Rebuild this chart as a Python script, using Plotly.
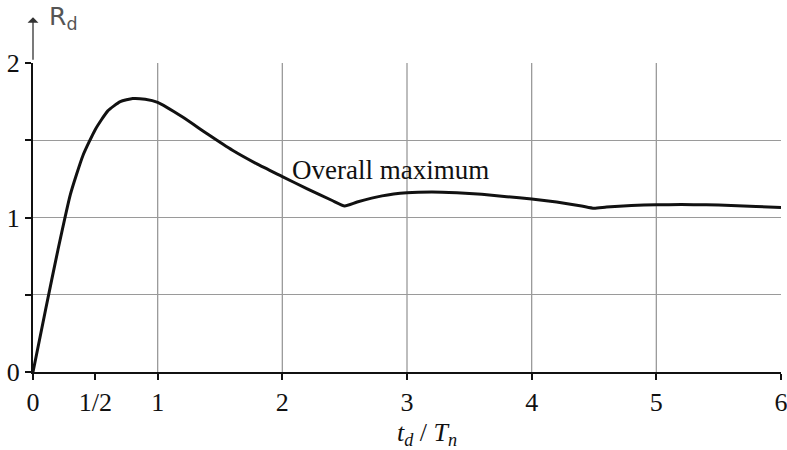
import plotly.graph_objects as go

# ---- data ----
td_tn = [0, 0.1, 0.2, 0.3, 0.4, 0.5, 0.6, 0.7, 0.8, 0.9, 1.0, 1.2, 1.4, 1.6, 1.8,
         2.0, 2.2, 2.4, 2.5, 2.6, 2.8, 3.0, 3.2, 3.4, 3.6, 3.8, 4.0, 4.2, 4.4,
         4.5, 4.6, 4.8, 5.0, 5.2, 5.4, 5.6, 5.8, 6.0]
rd = [0, 0.40, 0.79, 1.15, 1.40, 1.57, 1.69, 1.75, 1.77, 1.765, 1.745, 1.65, 1.54,
      1.435, 1.345, 1.265, 1.185, 1.11, 1.075, 1.10, 1.14, 1.16, 1.165, 1.16, 1.15,
      1.135, 1.12, 1.10, 1.075, 1.06, 1.068, 1.078, 1.082, 1.084, 1.082, 1.078,
      1.072, 1.065]

x_tickvals = [0, 0.5, 1, 2, 3, 4, 5, 6]
x_ticktext = ["0", "1/2", "1", "2", "3", "4", "5", "6"]
y_tickvals = [0, 0.5, 1, 1.5, 2]
y_ticktext = ["0", "", "1", "", "2"]
x_grid = [1, 2, 3, 4, 5]

serif = "Liberation Serif, Times New Roman, serif"

fig = go.Figure()
fig.add_trace(go.Scatter(x=td_tn, y=rd, mode="lines",
                         line=dict(color="#111111", width=3, shape="spline", smoothing=0.5),
                         hoverinfo="skip", showlegend=False))

for gx in x_grid:
    fig.add_shape(type="line", xref="x", yref="y", x0=gx, x1=gx, y0=0, y1=2,
                  line=dict(color="#9a9a9a", width=1.3), layer="below")

fig.add_annotation(x=2.87, y=1.31, xref="x", yref="y", text="Overall maximum",
                   showarrow=False, xanchor="center", yanchor="middle",
                   font=dict(family=serif, size=27, color="#111111"))

# axis arrow for R_d
fig.add_annotation(x=0, y=1.148, xref="x", yref="paper", ax=0, ay=44, axref="pixel", ayref="pixel",
                   text="", showarrow=True, arrowhead=1, arrowsize=1.4, arrowwidth=1.3,
                   arrowcolor="#333333")
fig.add_annotation(x=0.11, y=1.145, xref="x", yref="paper", text="R<sub>d</sub>",
                   showarrow=False, xanchor="left", yanchor="middle",
                   font=dict(family="DejaVu Sans, sans-serif", size=25, color="#555555"))

fig.add_annotation(x=3.16, y=-0.2, xref="x", yref="paper", yanchor="middle",
                   text="<i>t<sub>d</sub></i> / <i>T<sub>n</sub></i>", showarrow=False,
                   font=dict(family=serif, size=26, color="#111111"))

fig.update_layout(
    width=787, height=450,
    margin=dict(l=33, r=6, t=63, b=78),
    paper_bgcolor="white", plot_bgcolor="white",
    xaxis=dict(range=[0, 6], tickvals=x_tickvals, ticktext=x_ticktext, automargin=False,
               ticklabeloverflow="allow",
               showgrid=False, zeroline=False, showline=True, linecolor="#111111",
               linewidth=2, ticks="outside", ticklen=6, tickwidth=1.5, tickcolor="#111111",
               tickfont=dict(family=serif, size=26, color="#111111")),
    yaxis=dict(range=[0, 2], tickvals=y_tickvals, ticktext=y_ticktext, automargin=False,
               ticklabeloverflow="allow",
               showgrid=True, gridcolor="#9a9a9a", gridwidth=1.3, zeroline=False,
               showline=True, linecolor="#111111", linewidth=2, ticks="outside",
               ticklen=6, tickwidth=1.5, tickcolor="#111111", ticklabelstandoff=0,
               tickfont=dict(family=serif, size=26, color="#111111")),
)

fig.write_html("out.html", config={"displayModeBar": False},
               post_script="document.body.style.margin='0px';")
